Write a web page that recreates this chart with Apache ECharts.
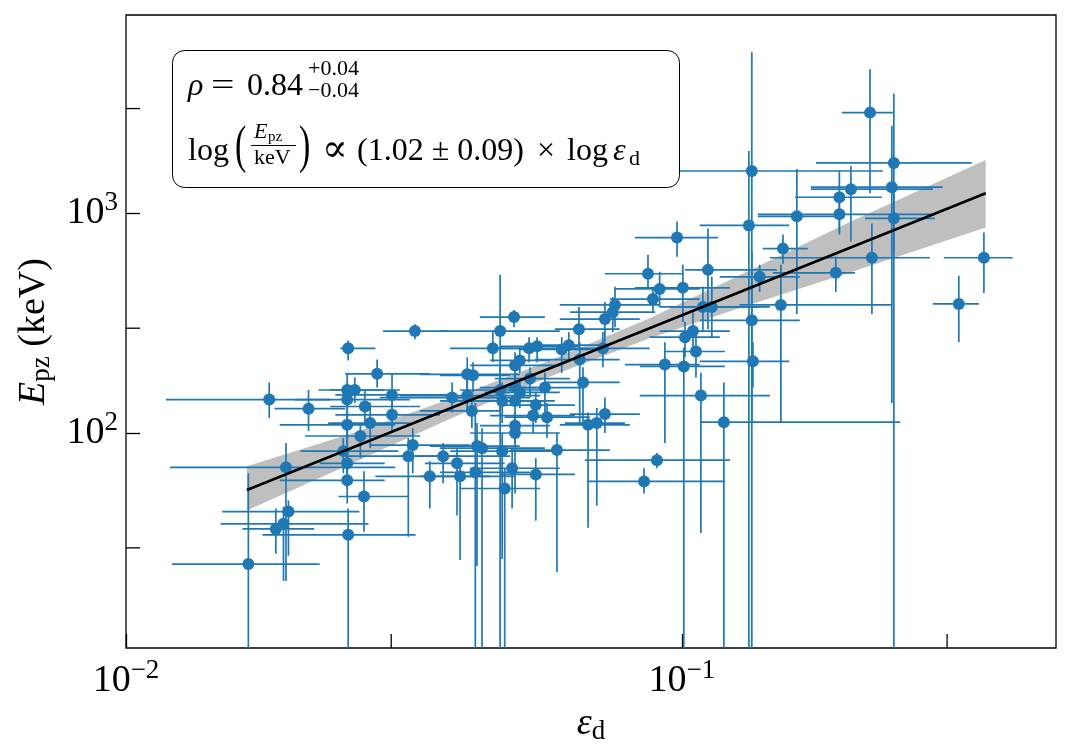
<!DOCTYPE html>
<html>
<head>
<meta charset="utf-8">
<script src="https://cdn.jsdelivr.net/npm/echarts@6/dist/echarts.min.js"></script>
<style>
  html, body { margin: 0; padding: 0; background: #fff; }
  #chart { width: 1071px; height: 755px; }
</style>
</head>
<body>
<div id="chart"></div>
<script>
// eps_d (x) with its lower / upper error bounds
const epsD = [
  0.0166,0.0181,0.0194,0.0196,0.0192,0.0186,0.0213,0.0251,0.0331,0.0283,
  0.0250,0.0258,0.0250,0.0269,0.0301,0.0301,0.0275,0.0250,0.0264,0.0246,
  0.0250,0.0250,0.0268,0.0251,0.0328,0.0322,0.0372,0.0394,0.0352,0.0399,
  0.0425,0.0428,0.0437,0.0475,0.0480,0.0495,0.0546,0.0596,0.0902,0.0855,
  0.0386,0.0411,0.0411,0.0421,0.0419,0.0471,0.0457,0.0475,0.0499,0.0653,
  0.0758,0.0751,0.0727,0.0869,0.0980,0.1114,0.1004,0.0912,0.0887,0.1091,
  0.1132,0.1047,0.1013,0.0721,0.0626,0.0608,0.0531,0.0549,0.0655,0.0511,
  0.0501,0.1060,0.0932,0.1008,0.1342,0.0533,0.0664,0.0567,0.0471,0.0501,
  0.0511,0.0501,0.0546,0.1082,0.0540,0.0572,0.0727,0.0678,0.0703,0.1190,
  0.0501,0.0501,0.1336,0.1320,0.1336,0.1520,0.1380,0.1610,0.1920,0.1920,
  0.2014,0.2180,0.2406,0.2386,0.2406,0.1892,0.2197,0.3494,0.3149,0.1507
];
const epsLo = [
  0.0121,0.0118,0.0120,0.0149,0.0148,0.0162,0.0185,0.0243,0.0290,0.0248,
  0.0222,0.0233,0.0201,0.0233,0.0238,0.0238,0.0231,0.0189,0.0210,0.0206,
  0.0223,0.0189,0.0241,0.0176,0.0275,0.0248,0.0311,0.0345,0.0281,0.0338,
  0.0367,0.0352,0.0367,0.0383,0.0399,0.0416,0.0471,0.0491,0.0669,0.0675,
  0.0286,0.0311,0.0338,0.0367,0.0338,0.0367,0.0383,0.0367,0.0433,0.0591,
  0.0603,0.0629,0.0603,0.0727,0.0823,0.1013,0.0823,0.0758,0.0742,0.0912,
  0.0951,0.0912,0.0875,0.0603,0.0533,0.0511,0.0452,0.0471,0.0544,0.0452,
  0.0416,0.0932,0.0790,0.0840,0.1077,0.0461,0.0567,0.0491,0.0399,0.0433,
  0.0442,0.0416,0.0471,0.0840,0.0452,0.0480,0.0629,0.0603,0.0616,0.1077,
  0.0433,0.0416,0.0840,0.1077,0.1077,0.1398,0.1170,0.1370,0.1597,0.1370,
  0.1706,0.1940,0.1742,0.1706,0.2135,0.1458,0.1440,0.2959,0.2828,0.1270
];
const epsHi = [
  0.0223,0.0233,0.0305,0.0263,0.0273,0.0218,0.0248,0.0281,0.0379,0.0352,
  0.0311,0.0292,0.0324,0.0338,0.0391,0.0367,0.0324,0.0305,0.0338,0.0309,
  0.0292,0.0292,0.0323,0.0332,0.0416,0.0399,0.0491,0.0480,0.0452,0.0501,
  0.0533,0.0511,0.0567,0.0603,0.0556,0.0603,0.0642,0.0742,0.1220,0.1195,
  0.0533,0.0556,0.0511,0.0491,0.0471,0.0603,0.0556,0.0567,0.0567,0.0773,
  0.0912,0.0895,0.0840,0.1000,0.1161,0.1482,0.1220,0.1077,0.1077,0.1380,
  0.1440,0.1220,0.1170,0.0875,0.0742,0.0712,0.0642,0.0655,0.0773,0.0579,
  0.0603,0.1195,0.1077,0.1195,0.1560,0.0629,0.0773,0.0669,0.0556,0.0579,
  0.0603,0.0591,0.0642,0.1440,0.0642,0.0683,0.0840,0.0806,0.0790,0.2470,
  0.0579,0.0603,0.2299,0.1560,0.1630,0.1685,0.1630,0.1948,0.2290,0.2851,
  0.2828,0.2396,0.3324,0.2947,0.2851,0.2048,0.2793,0.3938,0.3422,0.2386
];

// E_pz (keV) with its lower / upper error bounds
const ePz = [
  25.3,142,69.8,43.9,38.6,36.6,129,243,291,186,
  157,157,142,132,149,121,111,109,96.9,82.7,
  72.8,60.9,51.4,34.4,88.1,78.4,78.4,72.8,63.5,63.5,
  66.2,87.2,85.3,82.7,55.9,69.1,64.8,83.6,75.2,60.2,
  145,148,185,183,126,291,243,140,337,297,
  383,355,330,531,776,553,458,453,407,375,
  375,291,273,243,251,240,243,248,216,214,
  203,235,205,201,212,177,170,161,157,161,
  153,140,134,148,120,118,122,109,111,112,
  108,100,1559,881,326,691,514,969,1184,990,
  1289,2875,1696,1316,949,536,628,628,387,383
];
const ePzLo = [
  5,117,21.2,27.6,21.2,28.2,102,214,267,161,
  65.6,137,90,111,111,100,85.3,90,76.8,65.6,
  55.9,47.8,35.5,5,65.6,33.7,59,42.1,45.3,26.4,
  5,24.8,5,26.7,5,45.3,39.9,23.3,69.1,53.1,
  124,124,153,153,105,5,210,111,303,245,
  303,288,259,453,635,297,320,375,355,288,
  273,245,221,199,210,188,210,210,111,188,
  170,179,90,5,161,145,111,124,124,137,
  130,117,111,35.1,100,94.9,100,37.0,46.7,5,
  90,53.1,5,5,111,590,439,348,827,801,
  744,1235,5,137,669,439,348,434,259,111
];
const ePzHi = [
  65.6,170,90,49.3,46.2,45.3,157,264,313,216,
  188,179,170,156,185,145,137,124,111,94.9,
  90,72.8,66.9,45.3,105,94.9,90,85.3,74.4,76.8,
  137,111,105,100,69.1,85.3,76.8,100,81,69.1,
  170,179,221,210,145,525,288,170,363,375,
  463,416,395,648,919,854,584,542,463,463,
  514,355,320,288,288,273,273,273,259,245,
  233,288,259,245,259,199,199,188,199,188,
  173,161,153,188,137,137,145,124,130,170,
  124,117,5420,1925,669,801,584,1591,1559,1172,
  1643,4529,3516,2506,1261,635,900,818,520,584
];

// power-law fit and its confidence band
const fitX = [0.0165, 0.352];
const fitY = [55, 1235];
const bandX = [0.0165, 0.0253, 0.0383, 0.0579, 0.0875, 0.132, 0.200, 0.352];
const bandLo = [44.4, 72, 116, 181, 270, 383, 536, 863];
const bandHi = [70.6, 99, 143, 214, 333, 548, 910, 1750];

// minor ticks (3 x 10^n)
const xMinorTicks = [0.03, 0.3];
const yMinorTicks = [30, 300, 3000];

const blue = '#1f77b4';
const serif = '"Liberation Serif", "DejaVu Serif", serif';
const tickLen = 14;

const chart = echarts.init(document.getElementById('chart'));

const errRows = ePz.map((y, i) => [epsD[i], y, epsLo[i], epsHi[i], ePzLo[i], ePzHi[i]]);

function powLabel(v) {
  const e = Math.round(Math.log10(v));
  return '{b|10}{s|' + (e < 0 ? '\u2212' + (-e) : e) + '}';
}

const labelRich = {
  b: { fontSize: 38, fontFamily: serif, color: '#000', lineHeight: 48 },
  s: { fontSize: 27, fontFamily: serif, color: '#000', lineHeight: 24, verticalAlign: 'top' }
};

function txt(x, y, text, size, italic, extra) {
  const el = {
    type: 'text', x: x, y: y, z: 101,
    style: {
      text: text, fill: '#000',
      font: (italic ? 'italic ' : '') + size + 'px ' + serif,
      textAlign: 'left', textVerticalAlign: 'middle',
      align: 'left', verticalAlign: 'middle'
    }
  };
  return Object.assign(el, extra || {});
}

chart.setOption({
  animation: false,
  backgroundColor: '#fff',
  grid: {
    left: 126, right: 15, top: 15, bottom: 107,
    show: true, borderColor: '#000', borderWidth: 1.3, backgroundColor: 'transparent'
  },
  xAxis: {
    type: 'log', logBase: 10, min: 0.01, max: 0.471,
    axisLine: { show: false },
    axisTick: { show: true, inside: true, length: tickLen, lineStyle: { color: '#000', width: 1.3 } },
    splitLine: { show: false },
    axisLabel: { formatter: powLabel, rich: labelRich, margin: 9, showMaxLabel: false },
    name: '{i|\u03b5}{s|d}',
    nameLocation: 'middle', nameGap: 39,
    nameTextStyle: {
      rich: {
        i: { fontSize: 38, fontFamily: serif, fontStyle: 'italic', color: '#000', lineHeight: 44 },
        s: { fontSize: 27, fontFamily: serif, color: '#000', lineHeight: 30, verticalAlign: 'bottom' }
      }
    }
  },
  yAxis: {
    type: 'log', logBase: 10, min: 10.5, max: 8000,
    axisLine: { show: false },
    axisTick: { show: true, inside: true, length: tickLen, lineStyle: { color: '#000', width: 1.3 } },
    splitLine: { show: false },
    axisLabel: { formatter: powLabel, rich: labelRich, margin: 8, showMinLabel: false, showMaxLabel: false },
    name: '{i|E}{s|pz}{r| (keV)}',
    nameLocation: 'middle', nameGap: 64, nameRotate: 90,
    nameTextStyle: {
      rich: {
        i: { fontSize: 38, fontFamily: serif, fontStyle: 'italic', color: '#000', lineHeight: 44 },
        s: { fontSize: 27, fontFamily: serif, color: '#000', lineHeight: 30, verticalAlign: 'bottom' },
        r: { fontSize: 38, fontFamily: serif, color: '#000', lineHeight: 44 }
      }
    }
  },
  series: [
    {
      // confidence band
      type: 'custom', z: 1, silent: true, clip: true,
      data: [[bandX[0], bandLo[0]]],
      renderItem: function (params, api) {
        const upper = bandX.map((x, i) => api.coord([x, bandHi[i]]));
        const lower = bandX.map((x, i) => api.coord([x, bandLo[i]])).reverse();
        return { type: 'polygon', shape: { points: upper.concat(lower) }, style: { fill: '#bfbfbf' } };
      }
    },
    {
      // error bars
      type: 'custom', z: 2, silent: true, clip: true,
      data: errRows,
      encode: { x: 0, y: 1 },
      renderItem: function (params, api) {
        const x = api.value(0), y = api.value(1);
        const l = api.coord([api.value(2), y]);
        const r = api.coord([api.value(3), y]);
        const b = api.coord([x, api.value(4)]);
        const t = api.coord([x, api.value(5)]);
        const st = { stroke: blue, lineWidth: 1.7 };
        return {
          type: 'group',
          children: [
            { type: 'line', shape: { x1: l[0], y1: l[1], x2: r[0], y2: r[1] }, style: st },
            { type: 'line', shape: { x1: t[0], y1: t[1], x2: b[0], y2: b[1] }, style: st }
          ]
        };
      }
    },
    {
      type: 'scatter', z: 3, silent: true,
      symbol: 'circle', symbolSize: 12,
      itemStyle: { color: blue, opacity: 1 },
      data: errRows.map(r => [r[0], r[1]])
    },
    {
      type: 'line', z: 4, silent: true, symbol: 'none',
      lineStyle: { color: '#000', width: 2.6 },
      data: fitX.map((x, i) => [x, fitY[i]])
    },
    {
      // x minor ticks
      type: 'custom', z: 5, silent: true,
      data: xMinorTicks.map(v => [v, 100]),
      renderItem: function (params, api) {
        const cs = params.coordSys;
        const p = api.coord([api.value(0), 100]);
        const yb = cs.y + cs.height;
        return { type: 'line', shape: { x1: p[0], y1: yb, x2: p[0], y2: yb - tickLen }, style: { stroke: '#000', lineWidth: 1.3 } };
      }
    },
    {
      // y minor ticks
      type: 'custom', z: 5, silent: true,
      data: yMinorTicks.map(v => [0.1, v]),
      renderItem: function (params, api) {
        const cs = params.coordSys;
        const p = api.coord([0.1, api.value(1)]);
        return { type: 'line', shape: { x1: cs.x, y1: p[1], x2: cs.x + tickLen, y2: p[1] }, style: { stroke: '#000', lineWidth: 1.3 } };
      }
    }
  ],
  graphic: [
    {
      type: 'rect', z: 100,
      shape: { x: 172.5, y: 50.5, width: 507, height: 137, r: 12 },
      style: { fill: '#fff', stroke: '#000', lineWidth: 1 }
    },
    txt(188, 87, '\u03c1', 32, true),
    txt(211, 87, '=', 32, false, { scaleX: 1.3 }),
    txt(247, 87, '0.84', 32, false),
    txt(308, 69, '+0.04', 22, false),
    txt(308, 91, '\u22120.04', 22, false),
    txt(188, 152, 'log', 32, false),
    txt(235, 148, '(', 34, false, { scaleY: 1.55 }),
    txt(254, 132, 'E', 22, true),
    txt(268, 137, 'pz', 15, false),
    { type: 'line', z: 101, shape: { x1: 251, y1: 145.5, x2: 296, y2: 145.5 }, style: { stroke: '#000', lineWidth: 1 } },
    txt(254, 158, 'keV', 22, false),
    txt(299, 148, ')', 34, false, { scaleY: 1.55 }),
    txt(322, 151, '\u221d', 38, false),
    txt(357, 152, '(1.02 \u00b1 0.09)', 32, false),
    txt(537, 152, '\u00d7', 32, false),
    txt(567, 152, 'log', 32, false),
    txt(613, 152, '\u03b5', 32, true),
    txt(629, 159, 'd', 22, false)
  ]
});
</script>
</body>
</html>
